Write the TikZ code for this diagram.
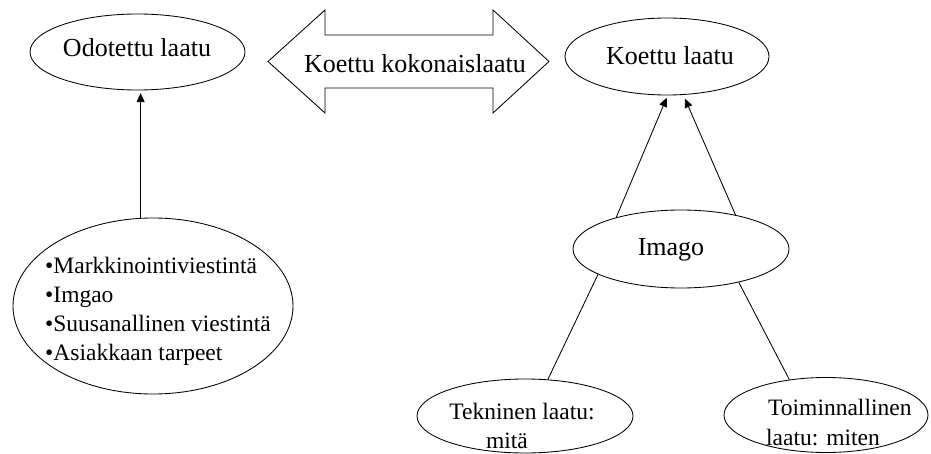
\documentclass[tikz,border=0pt]{standalone}
\usepackage{fontspec}
\setmainfont{Liberation Serif}
\usetikzlibrary{arrows.meta,shapes.geometric}
\begin{document}
\begin{tikzpicture}[x=1pt,y=-1pt,
  oval/.style={draw, ellipse, inner sep=0pt, line width=0.85pt},
  big/.style={font=\fontsize{26}{30}\selectfont, inner sep=0pt},
  small/.style={font=\fontsize{23.5}{29}\selectfont, inner sep=0pt},
  link/.style={line width=0.85pt},
  arr/.style={link, -{Triangle[length=9pt,width=8pt]}}]
\useasboundingbox (0,0) rectangle (931,454);

% ellipses
\node[oval, minimum width=215pt, minimum height=76pt]  (odotettu) at (137.5,52) {};
\node[oval, minimum width=204pt, minimum height=77pt]  (koettu) at (667,56.5) {};
\node[oval, minimum width=280pt, minimum height=176pt] (lista) at (153,306) {};
\node[oval, minimum width=216pt, minimum height=78pt]  (imago) at (681,249) {};
\node[oval, minimum width=216pt, minimum height=74pt]  (tekninen) at (525,416) {};
\node[oval, minimum width=204pt, minimum height=75pt]  (toiminnallinen) at (826,415) {};

% double-headed block arrow
\draw[link, line join=miter] (268,61.5) -- (325,10) -- (325,35) -- (493,35) -- (493,10)
  -- (549,61.5) -- (493,113) -- (493,88) -- (325,88) -- (325,113) -- cycle;

% labels
\node[big, anchor=base] (odotettu-t) at (137,57) {Odotettu laatu};
\node[big, anchor=base] (kokonais-t) at (415,72.5) {Koettu kokonaislaatu};
\node[big, anchor=base] (koettu-t) at (670,65) {Koettu laatu};
\node[big, anchor=base] (imago-t) at (671,256) {Imago};

\node[small, anchor=base west] (l1) at (45,273) {•Markkinointiviestintä};
\node[small, anchor=base west] (l2) at (45,302) {•Imgao};
\node[small, anchor=base west] (l3) at (45,331) {•Suusanallinen viestintä};
\node[small, anchor=base west] (l4) at (45,360) {•Asiakkaan tarpeet};

\node[small, anchor=base] (tek1) at (522,419) {Tekninen laatu:};
\node[small, anchor=base] (tek2) at (507,448) {mitä};
\node[small, anchor=base west] (toi1) at (768,415) {Toiminnallinen};
\node[small, anchor=base west] (toi2) at (766,445) {laatu: miten};

% connectors
\draw[arr, shorten >=2.7pt] (lista.98) -- (lista.98 |- odotettu.south);
\draw[arr, shorten >=2.5pt] (imago.154) -- (koettu.271);
\draw[arr, shorten >=4pt] (imago.32) -- (koettu.293);
\draw[link] (imago.197) -- (tekninen.58);
\draw[link] (imago.330) -- (toiminnallinen.136);
\end{tikzpicture}
\end{document}
